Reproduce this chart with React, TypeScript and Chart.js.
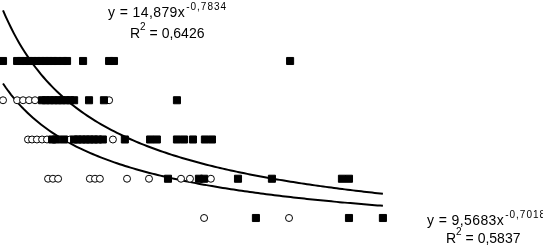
import React, { useEffect, useRef } from "react";
import { Chart, registerables } from "chart.js";

Chart.register(...registerables);

// Row scores (y) and x values
const squaresRow5X = [3.0, 3.52, 3.66, 3.81, 3.96, 4.1, 4.25, 4.4, 4.55, 4.69, 4.84, 4.99, 5.21, 5.36, 5.95, 6.91, 7.09, 13.58];
const squaresRow4X = [4.44, 4.58, 4.73, 4.88, 5.03, 5.17, 5.32, 5.47, 5.62, 6.17, 6.72, 9.41];
const squaresRow3X = [4.81, 4.95, 5.25, 5.62, 5.76, 5.91, 6.06, 6.2, 6.35, 6.5, 6.68, 7.49, 8.42, 8.67, 9.41, 9.67, 10.0, 10.44, 10.7];
const squaresRow2X = [9.08, 10.22, 10.41, 11.66, 12.91, 15.49, 15.75];
const squaresRow1X = [12.32, 15.75, 17.0];

const circlesRow4X = [3.0, 3.52, 3.74, 3.96, 4.18, 6.91];
const circlesRow3X = [3.92, 4.07, 4.25, 4.44, 4.62, 5.1, 5.47, 7.05];
const circlesRow2X = [4.66, 4.84, 5.03, 6.2, 6.39, 6.57, 7.57, 8.38, 9.56, 9.89, 10.66];
const circlesRow1X = [10.41, 13.54];

// Trendline equations shown on the chart
const squareFitA = 14.879;
const squareFitB = -0.7834;
const circleFitA = 9.5683;
const circleFitB = -0.7018;
const fitRangeX = [3, 17];

const upperEquation = "y = 14,879x";
const upperExponent = "-0,7834";
const upperR2 = " = 0,6426";
const lowerEquation = "y = 9,5683x";
const lowerExponent = "-0,7018";
const lowerR2 = " = 0,5837";

const toPoints = (xs: number[], y: number) => xs.map((x) => ({ x, y }));

const trendPoints = (a: number, b: number) => {
  const pts: { x: number; y: number }[] = [];
  for (let x = fitRangeX[0]; x <= fitRangeX[1] + 1e-9; x += 0.1) {
    pts.push({ x, y: a * Math.pow(x, b) });
  }
  return pts;
};

const MAIN_FONT = '14px "Liberation Sans", Arial, sans-serif';
const SUP_FONT = '10px "Liberation Sans", Arial, sans-serif';

function drawEq(ctx: CanvasRenderingContext2D, x: number, base: number, main: string, sup: string) {
  ctx.font = MAIN_FONT;
  (ctx as any).letterSpacing = "0.4px";
  ctx.fillText(main, x, base);
  const w = ctx.measureText(main).width;
  ctx.font = SUP_FONT;
  (ctx as any).letterSpacing = "1px";
  ctx.fillText(sup, x + w + 1, base - 7.5);
}

function drawR2(ctx: CanvasRenderingContext2D, x: number, base: number, rest: string) {
  ctx.font = MAIN_FONT;
  (ctx as any).letterSpacing = "0px";
  ctx.fillText("R", x, base);
  const w = ctx.measureText("R").width;
  ctx.font = SUP_FONT;
  ctx.fillText("2", x + w, base - 8);
  const w2 = ctx.measureText("2").width;
  ctx.font = MAIN_FONT;
  ctx.fillText(rest, x + w + w2, base);
}

const labelPlugin = {
  id: "eqLabels",
  afterDatasetsDraw(chart: any) {
    const ctx: CanvasRenderingContext2D = chart.ctx;
    ctx.save();
    ctx.fillStyle = "#000";
    ctx.textBaseline = "alphabetic";
    ctx.textAlign = "left";
    drawEq(ctx, 108, 17, upperEquation, upperExponent);
    drawR2(ctx, 130, 38, upperR2);
    drawEq(ctx, 427, 225, lowerEquation, lowerExponent);
    drawR2(ctx, 446, 243, lowerR2);
    ctx.restore();
  },
};

export default function App() {
  const ref = useRef<HTMLCanvasElement>(null);
  useEffect(() => {
    document.body.style.margin = "0";
    const squares = [
      ...toPoints(squaresRow5X, 5),
      ...toPoints(squaresRow4X, 4),
      ...toPoints(squaresRow3X, 3),
      ...toPoints(squaresRow2X, 2),
      ...toPoints(squaresRow1X, 1),
    ];
    const circles = [
      ...toPoints(circlesRow4X, 4),
      ...toPoints(circlesRow3X, 3),
      ...toPoints(circlesRow2X, 2),
      ...toPoints(circlesRow1X, 1),
    ];
    const chart = new Chart(ref.current as HTMLCanvasElement, {
      type: "scatter",
      data: {
        datasets: [
          {
            label: "squares",
            data: squares,
            pointStyle: "rect",
            pointRadius: 5,
            backgroundColor: "#000",
            borderColor: "#000",
            borderWidth: 1,
            showLine: false,
            clip: false,
          },
          {
            label: "circles",
            data: circles,
            pointStyle: "circle",
            pointRadius: 3.5,
            backgroundColor: "#fff",
            borderColor: "#000",
            borderWidth: 1,
            showLine: false,
            clip: false,
          },
          {
            label: "squares fit",
            data: trendPoints(squareFitA, squareFitB),
            showLine: true,
            pointRadius: 0,
            borderColor: "#000",
            borderWidth: 2,
            fill: false,
            tension: 0,
            clip: false,
          },
          {
            label: "circles fit",
            data: trendPoints(circleFitA, circleFitB),
            showLine: true,
            pointRadius: 0,
            borderColor: "#000",
            borderWidth: 2,
            fill: false,
            tension: 0,
            clip: false,
          },
        ],
      } as any,
      options: {
        responsive: false,
        animation: false,
        devicePixelRatio: 1,
        layout: { padding: 0, autoPadding: false } as any,
        plugins: { legend: { display: false }, tooltip: { enabled: false } },
        events: [],
        scales: {
          x: { type: "linear", min: 2.889, max: 22.9, display: false },
          y: { type: "linear", min: 0.312, max: 6.554, display: false },
        },
      },
      plugins: [labelPlugin],
    });
    return () => chart.destroy();
  }, []);
  return (
    <div style={{ width: 543, height: 245, background: "#fff" }}>
      <canvas ref={ref} width={543} height={245} style={{ display: "block" }} />
    </div>
  );
}
